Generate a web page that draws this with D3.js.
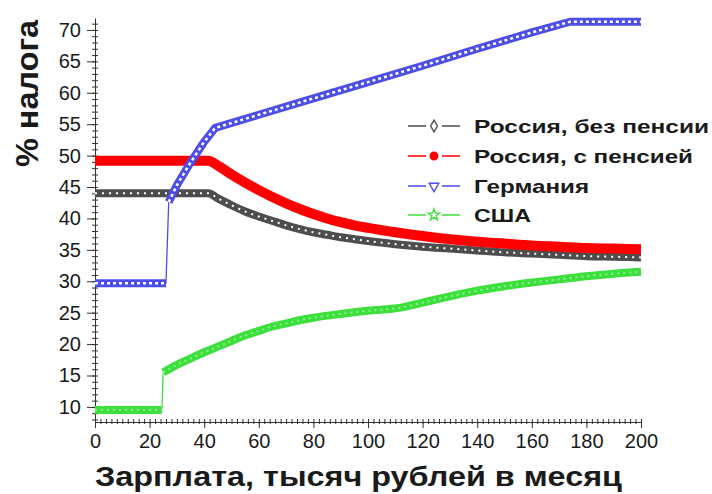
<!DOCTYPE html>
<html>
<head>
<meta charset="utf-8">
<script src="https://cdn.jsdelivr.net/npm/d3@7"></script>
<style>
  body { margin: 0; background: #fff; }
  svg { display: block; font-family: "Liberation Sans", Arial, sans-serif; }
</style>
</head>
<body>
<svg id="chart" width="712" height="494"></svg>
<script>
// tick labels
const xTicks = [0, 20, 40, 60, 80, 100, 120, 140, 160, 180, 200];
const yTicks = [10, 15, 20, 25, 30, 35, 40, 45, 50, 55, 60, 65, 70];

// Россия, без пенсии
const ruNoPensionX = [0, 10, 20, 30, 41.5, 45, 50, 55, 60, 65, 70, 75, 80, 85, 90, 95, 100, 110, 120, 130, 140, 150, 160, 170, 180, 190, 200];
const ruNoPension  = [44.0, 44.0, 44.0, 44.0, 44.0, 43.2, 42.1, 41.1, 40.3, 39.6, 38.9, 38.3, 37.8, 37.4, 37.0, 36.7, 36.4, 35.9, 35.5, 35.2, 34.9, 34.6, 34.4, 34.2, 34.0, 33.9, 33.8];

// Россия, с пенсией
const ruPensionX = [0, 10, 20, 30, 41.5, 45, 50, 55, 60, 65, 70, 75, 80, 85, 90, 95, 100, 110, 120, 130, 140, 150, 160, 170, 180, 190, 200];
const ruPension  = [49.2, 49.2, 49.2, 49.2, 49.2, 48.4, 47.0, 45.7, 44.5, 43.4, 42.4, 41.5, 40.7, 40.0, 39.4, 38.9, 38.5, 37.8, 37.2, 36.7, 36.3, 36.0, 35.7, 35.5, 35.3, 35.2, 35.1];

// Германия
const germanyX = [0, 10, 20, 26, 27, 30, 35, 40, 44, 60, 80, 100, 120, 140, 160, 174, 185, 200];
const germany  = [29.7, 29.7, 29.7, 29.7, 42.6, 45.3, 48.9, 52.2, 54.4, 56.5, 59.1, 61.7, 64.3, 67.0, 69.6, 71.3, 71.3, 71.3];

// США
const usaX = [0, 10, 20, 24.5, 25, 30, 35, 40, 45, 50, 55, 60, 65, 70, 75, 80, 90, 100, 112, 120, 130, 140, 150, 160, 170, 180, 190, 200];
const usa  = [9.5, 9.5, 9.5, 9.5, 15.5, 16.7, 17.7, 18.7, 19.6, 20.5, 21.4, 22.1, 22.8, 23.3, 23.8, 24.2, 24.8, 25.3, 25.8, 26.6, 27.6, 28.5, 29.2, 29.8, 30.3, 30.8, 31.2, 31.5];

const seriesNames = ["Россия, без пенсии", "Россия, с пенсией", "Германия", "США"];

const series = [
  { name: seriesNames[0], xs: ruNoPensionX, vs: ruNoPension, color: "#4d4d4d", width: 8, inner: "#ffffff", dash: "2 5", innerW: 2, symbol: d3.symbolDiamond, filled: false, curve: d3.curveMonotoneX },
  { name: seriesNames[1], xs: ruPensionX, vs: ruPension, color: "#ff0000", width: 10, inner: null, symbol: d3.symbolCircle, filled: true, curve: d3.curveMonotoneX },
  { name: seriesNames[2], xs: germanyX, vs: germany, color: "#4d4de8", width: 8, inner: "#ffffff", dash: "3 3", innerW: 2.5, symbol: d3.symbolTriangle, filled: false, flip: true, curve: d3.curveLinear },
  { name: seriesNames[3], xs: usaX, vs: usa, color: "#3ddf3d", width: 8, inner: "#8cf08c", dash: "2 4", innerW: 2, symbol: d3.symbolStar, filled: false, curve: d3.curveMonotoneX }
];

const svg = d3.select("#chart");

const x = d3.scaleLinear().domain([0, 200]).range([95, 641]);
const y = d3.scaleLinear().domain([7.6, 71.9]).range([422, 18]);

// axes
const xAxis = svg.append("g")
  .attr("transform", "translate(0,422)")
  .call(d3.axisBottom(x).tickValues(xTicks).tickSize(6).tickSizeOuter(0).tickPadding(6));
xAxis.selectAll("text").attr("font-size", 20).attr("fill", "#1a1a1a");

const xMinor = svg.append("g")
  .attr("transform", "translate(0,419)")
  .call(d3.axisBottom(x).tickValues(d3.range(0, 201, 2)).tickSize(5).tickFormat(""));
xMinor.select(".domain").remove();

const yAxis = svg.append("g")
  .attr("transform", "translate(95,0)")
  .call(d3.axisLeft(y).tickValues(yTicks).tickSize(8).tickSizeOuter(0).tickPadding(6));
yAxis.selectAll("text").attr("font-size", 20).attr("fill", "#1a1a1a");

const yMinor = svg.append("g")
  .attr("transform", "translate(98,0)")
  .call(d3.axisLeft(y).tickValues(d3.range(8, 72, 1)).tickSize(6).tickFormat(""));
yMinor.select(".domain").remove();

svg.selectAll(".domain, .tick line").attr("stroke", "#333");

// axis titles
svg.append("text")
  .attr("x", 95).attr("y", 486)
  .attr("font-size", 28).attr("font-weight", "bold").attr("fill", "#1a1a1a")
  .attr("textLength", 527).attr("lengthAdjust", "spacingAndGlyphs")
  .text("Зарплата, тысяч рублей в месяц");

svg.append("text")
  .attr("transform", "translate(38,167) rotate(-90)")
  .attr("font-size", 32).attr("font-weight", "bold").attr("fill", "#1a1a1a")
  .attr("textLength", 147).attr("lengthAdjust", "spacingAndGlyphs")
  .text("% налога");

// split a series where it jumps, so the jump is drawn thin
function runs(s) {
  const pts = s.xs.map((d, i) => [d, s.vs[i]]);
  const out = [[pts[0]]];
  for (let i = 1; i < pts.length; i++) {
    const slope = Math.abs((pts[i][1] - pts[i - 1][1]) / (pts[i][0] - pts[i - 1][0]));
    if (slope > 3) out.push([]);
    out[out.length - 1].push(pts[i]);
  }
  return out.filter(r => r.length > 1);
}

const plot = svg.append("g");
series.forEach(s => {
  const line = d3.line().x(d => x(d[0])).y(d => y(d[1])).curve(s.curve);
  const pts = s.xs.map((d, i) => [d, s.vs[i]]);
  plot.append("path").attr("d", line(pts))
    .attr("fill", "none").attr("stroke", s.color).attr("stroke-width", 1.3);
  runs(s).forEach(r => {
    plot.append("path").attr("d", line(r))
      .attr("fill", "none").attr("stroke", s.color).attr("stroke-width", s.width)
      .attr("stroke-linejoin", "round");
    if (s.inner) {
      plot.append("path").attr("d", line(r))
        .attr("fill", "none").attr("stroke", s.inner).attr("stroke-width", s.innerW)
        .attr("stroke-dasharray", s.dash);
    }
  });
});

// legend
const legendY = [126, 156, 186, 215];
const legend = svg.append("g");
series.forEach((s, i) => {
  const g = legend.append("g").attr("transform", `translate(0,${legendY[i]})`);
  g.append("line").attr("x1", 408).attr("x2", 426).attr("y1", 0).attr("y2", 0)
    .attr("stroke", s.color).attr("stroke-width", 1.5);
  g.append("line").attr("x1", 442).attr("x2", 460).attr("y1", 0).attr("y2", 0)
    .attr("stroke", s.color).attr("stroke-width", 1.5);
  g.append("path")
    .attr("d", d3.symbol().type(s.symbol).size(s.filled ? 45 : 40)())
    .attr("transform", `translate(434,0)${s.flip ? " rotate(180)" : ""}`)
    .attr("fill", s.filled ? s.color : "#fff")
    .attr("stroke", s.color).attr("stroke-width", 1.4);
});
const legendW = [235, 219, 115, 57];
legend.selectAll("text.lbl").data(seriesNames).enter()
  .append("text").attr("class", "lbl")
  .attr("x", 474).attr("y", (d, i) => legendY[i] + 7)
  .attr("font-size", 19).attr("font-weight", "bold").attr("fill", "#1a1a1a")
  .attr("textLength", (d, i) => legendW[i]).attr("lengthAdjust", "spacingAndGlyphs")
  .text(d => d);
</script>
</body>
</html>
